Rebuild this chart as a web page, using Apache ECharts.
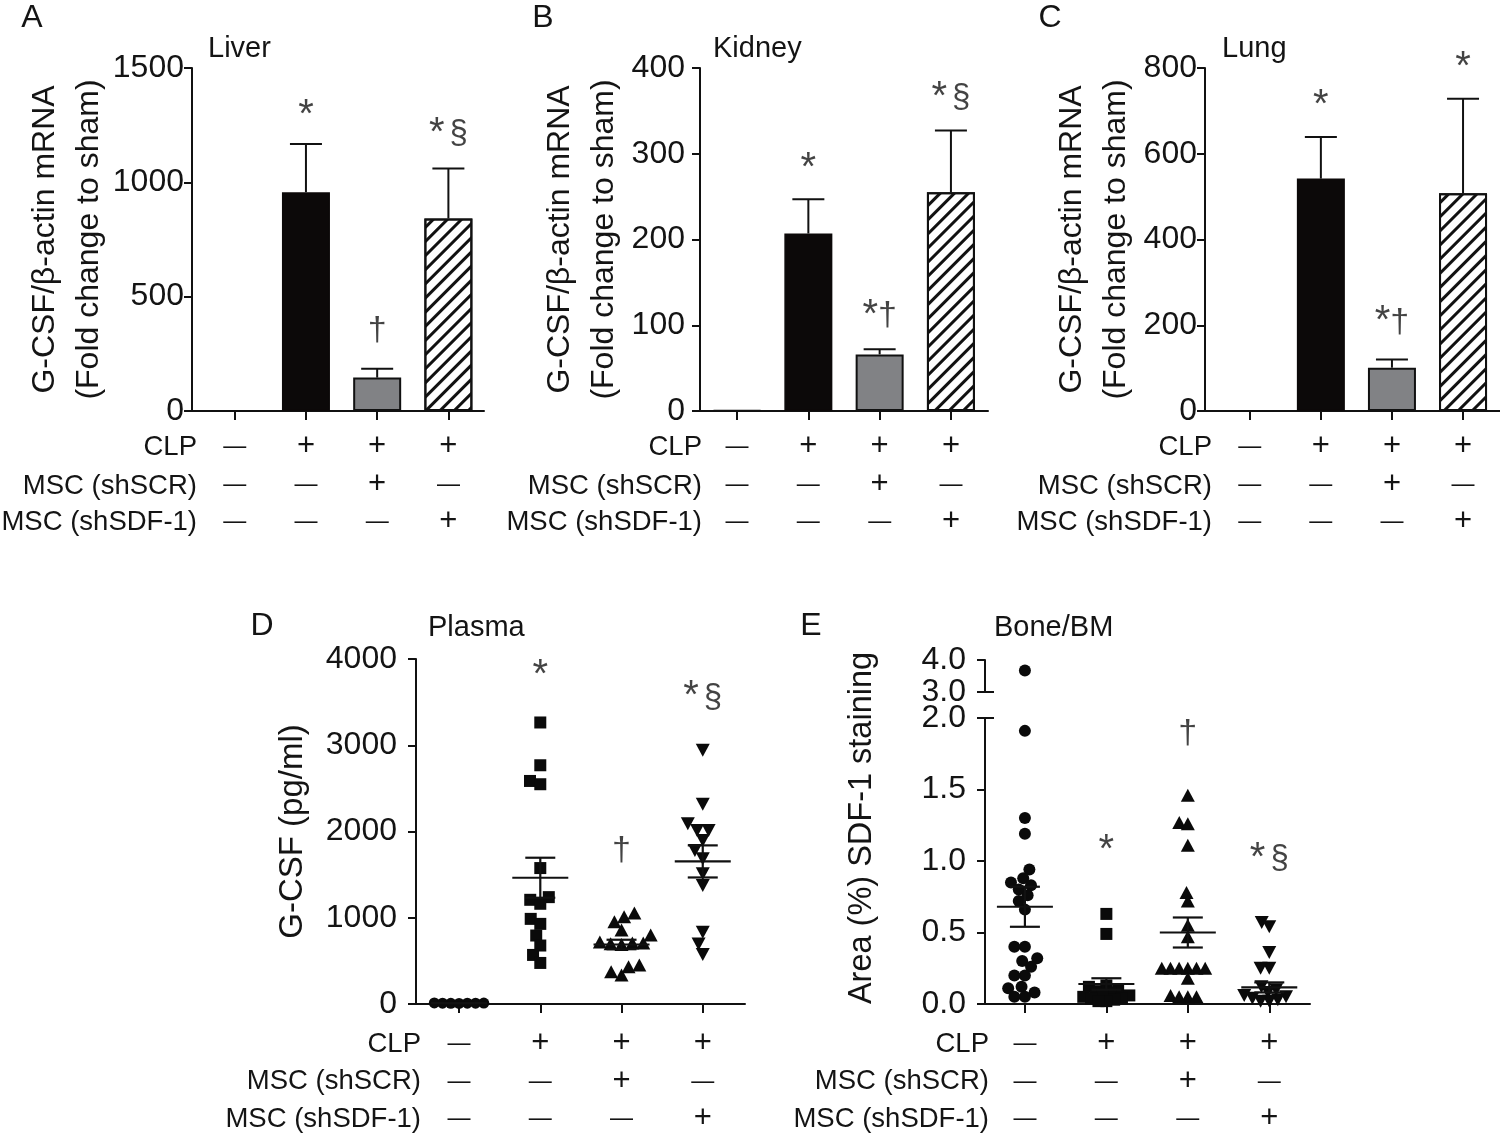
<!DOCTYPE html>
<html><head><meta charset="utf-8">
<script src="https://cdn.jsdelivr.net/npm/echarts@6/dist/echarts.min.js"></script>
<style>html,body{margin:0;padding:0;background:#fff}#c{width:1500px;height:1135px}</style>
</head><body><div id="c"></div>
<script>
// ---------------- data ----------------
const groupIndex = [0, 1, 2, 3];
const rowNames = ['CLP', 'MSC (shSCR)', 'MSC (shSDF-1)'];
const clpSigns = ['—', '+', '+', '+'];
const shSCRSigns = ['—', '—', '+', '—'];
const shSDFSigns = ['—', '—', '—', '+'];

const panelLetters = ['A', 'B', 'C', 'D', 'E'];
const panelTitles = ['Liver', 'Kidney', 'Lung', 'Plasma', 'Bone/BM'];

// A-C: G-CSF / beta-actin mRNA (fold change to sham), mean and SEM
const liverMean = [1, 957, 146, 842];
const liverSEM = [0, 211, 39, 218];
const kidneyMean = [1, 207, 66, 255];
const kidneySEM = [0, 40, 6, 72];
const lungMean = [1, 542, 101, 508];
const lungSEM = [0, 97, 19, 220];

const liverMarks = ['', '*', '†', '* §'];
const liverMarkY = [null, 1289, 353, 1210];
const kidneyMarks = ['', '*', '*†', '* §'];
const kidneyMarkY = [null, 282, 111, 365];
const lungMarks = ['', '*', '*†', '*'];
const lungMarkY = [null, 711, 207, 800];

// D: plasma G-CSF (pg/ml), individual animals
const plasmaSham = [10, 8, 12, 9, 11, 7, 10];
const plasmaCLP = [3264, 2768, 2586, 2548, 1576, 1239, 1208, 1162, 987, 929, 794, 678, 569, 476];
const plasmaSCR = [1055, 1012, 954, 858, 800, 720, 707, 700, 690, 707, 452, 433, 375, 336];
const plasmaSDF = [2943, 2315, 2091, 2013, 2013, 1897, 1781, 1684, 1510, 1375, 832, 697, 573];
const plasmaMean = [10, 1464, 690, 1653];
const plasmaSEM = [1, 232, 55, 186];
const plasmaMarks = ['', '*', '†', '* §'];
const plasmaMarkY = [null, 3800, 1777, 3554];

// E: bone/BM area (%) SDF-1 staining, individual animals
const boneSham = [3.67, 1.91, 1.30, 1.19, 0.94, 0.88, 0.85, 0.83, 0.80, 0.76, 0.72, 0.66, 0.40, 0.40, 0.32, 0.30, 0.26, 0.20, 0.20, 0.12, 0.11, 0.08, 0.05, 0.05];
const boneCLP = [0.63, 0.49, 0.13, 0.12, 0.10, 0.09, 0.08, 0.07, 0.06, 0.05, 0.04, 0.04, 0.03, 0.02, 0.02];
const boneSCR = [1.46, 1.27, 1.26, 1.11, 0.78, 0.72, 0.55, 0.47, 0.25, 0.25, 0.25, 0.25, 0.25, 0.25, 0.18, 0.06, 0.05, 0.05, 0.05];
const boneSDF = [0.57, 0.54, 0.36, 0.25, 0.25, 0.12, 0.10, 0.08, 0.06, 0.05, 0.04, 0.03, 0.02, 0.02];
const boneMean = [0.68, 0.14, 0.50, 0.116];
const boneSEM = [0.14, 0.04, 0.105, 0.035];
const boneMarks = ['', '*', '†', '* §'];
const boneMarkY = [null, 1.07, 1.888, 1.012];

const yTicksA = [0, 1500, 500];
const yTicksB = [0, 400, 100];
const yTicksC = [0, 800, 200];
const yTicksD = [0, 4000, 1000];
const yTicksELow = [0, 2, 0.5];
const yTicksEHigh = [3, 4, 1];

// ---------------- styling ----------------
const FONT = '"Liberation Sans", Arial, Helvetica, sans-serif';
const INK = '#111';
const TXT = '#141414';

const signRich = {
  p: { fontSize: 31, lineHeight: 37.5, fontFamily: FONT, color: TXT },
  m: { fontSize: 23, lineHeight: 37.5, fontFamily: FONT, color: TXT }
};
function signToken(s) { return s === '+' ? '{p|+}' : '{m|—}'; }
function signFormatter(v) {
  const i = Math.round(v);
  return [clpSigns[i], shSCRSigns[i], shSDFSigns[i]].map(signToken).join('\n');
}
const markRich = {
  a: { fontSize: 40, fontFamily: FONT, color: TXT },
  d: { fontSize: 34, fontFamily: FONT, color: TXT },
  s: { fontSize: 33, fontFamily: FONT, color: TXT },
  sp: { fontSize: 18, fontFamily: FONT }
};
function richify(str) {
  return str.split('').map(ch => ch === '*' ? '{a|*}' : ch === '†' ? '{d|†}' : ch === '§' ? '{s|§}' : '{sp| }').join('');
}

const grids = [
  { left: 192, top: 68, width: 292, height: 343 },
  { left: 700, top: 68, width: 288, height: 343 },
  { left: 1205, top: 68, width: 295, height: 343 },
  { left: 416, top: 659, width: 329, height: 345 },
  { left: 985, top: 718, width: 325, height: 286 },
  { left: 985, top: 660, width: 325, height: 32 }
].map(g => Object.assign({ containLabel: false, outerBoundsMode: 'none' }, g));

const xRanges = [[-0.6, 3.5], [-0.52, 3.52], [-0.63, 3.52], [-0.53, 3.52], [-0.49, 3.5], [-0.49, 3.5]];
const xMargins = [17, 17, 17, 21, 21, 21];

const xAxes = xRanges.map((r, gi) => ({
  type: 'value', gridIndex: gi, min: r[0], max: r[1], show: gi !== 5,
  axisLine: { show: true, onZero: false, lineStyle: { color: INK, width: 2 } },
  axisTick: { show: true, customValues: groupIndex, length: 9, lineStyle: { color: INK, width: 2 } },
  splitLine: { show: false },
  axisLabel: { show: true, customValues: groupIndex, formatter: signFormatter, rich: signRich, margin: xMargins[gi], hideOverlap: false }
}));

const yDefs = [
  { t: yTicksA, margin: 8, name: 'G-CSF/β-actin mRNA\n(Fold change to sham)', gap: 81, fs: 32, lh: 44 },
  { t: yTicksB, margin: 15, name: 'G-CSF/β-actin mRNA\n(Fold change to sham)', gap: 74, fs: 32, lh: 44 },
  { t: yTicksC, margin: 8, name: 'G-CSF/β-actin mRNA\n(Fold change to sham)', gap: 67, fs: 32, lh: 44 },
  { t: yTicksD, margin: 19, name: 'G-CSF (pg/ml)', gap: 105, fs: 33, lh: 36 },
  { t: yTicksELow, margin: 19, name: '', gap: 0, fixed: 1 },
  { t: yTicksEHigh, margin: 19, name: '', gap: 0, fixed: 1 }
];
const yAxes = yDefs.map((d, gi) => ({
  type: 'value', gridIndex: gi, min: d.t[0], max: d.t[1], interval: d.t[2],
  name: d.name, nameLocation: 'middle', nameRotate: 90, nameGap: d.gap, nameMoveOverlap: false,
  nameTextStyle: { fontSize: d.fs || 32, lineHeight: d.lh || 40, fontFamily: FONT, color: TXT },
  axisLine: { show: true, onZero: false, lineStyle: { color: INK, width: 2 } },
  axisTick: { show: true, length: 8, lineStyle: { color: INK, width: 2 } },
  splitLine: { show: false },
  axisLabel: {
    show: true, margin: d.margin, fontSize: 32, fontFamily: FONT, color: TXT, hideOverlap: false,
    formatter: d.fixed ? (v => v.toFixed(1)) : (v => String(v))
  }
}));

const barItemStyles = [
  { color: '#ffffff', borderColor: INK, borderWidth: 1.5 },
  { color: '#0c0909', borderColor: '#0c0909', borderWidth: 1.5 },
  { color: '#818285', borderColor: INK, borderWidth: 2 },
  { color: '#ffffff', borderColor: INK, borderWidth: 2,
    decal: { symbol: 'rect', symbolSize: 1, color: '#111', dashArrayX: [1, 0], dashArrayY: [3, 7], rotation: -Math.PI / 4 } }
];

function barSeries(gi, means) {
  return {
    type: 'bar', xAxisIndex: gi, yAxisIndex: gi, barWidth: 48, z: 3, silent: true,
    data: groupIndex.map(i => ({ value: [i, means[i]], itemStyle: barItemStyles[i] }))
  };
}
function barErrSeries(gi, means, sems) {
  return {
    type: 'custom', xAxisIndex: gi, yAxisIndex: gi, z: 4, silent: true,
    encode: { x: 0, y: 1 },
    data: groupIndex.map(i => [i, means[i], sems[i]]),
    renderItem: (params, api) => {
      const x = api.value(0), m = api.value(1), s = api.value(2);
      if (!s) return { type: 'group', children: [] };
      const p0 = api.coord([x, m]), p1 = api.coord([x, m + s]);
      const h = 16;
      return { type: 'group', children: [
        { type: 'line', shape: { x1: p0[0], y1: p0[1], x2: p1[0], y2: p1[1] }, style: { stroke: INK, lineWidth: 2 } },
        { type: 'line', shape: { x1: p1[0] - h, y1: p1[1], x2: p1[0] + h, y2: p1[1] }, style: { stroke: INK, lineWidth: 2 } }
      ] };
    }
  };
}
function meanSemSeries(gi, means, sems) {
  return {
    type: 'custom', xAxisIndex: gi, yAxisIndex: gi, z: 6, silent: true,
    encode: { x: 0, y: 1 },
    data: groupIndex.map(i => [i, means[i], sems[i]]),
    renderItem: (params, api) => {
      const x = api.value(0), m = api.value(1), s = api.value(2);
      const pm = api.coord([x, m]), pt = api.coord([x, m + s]), pb = api.coord([x, Math.max(0, m - s)]);
      const hm = 28, hc = 15, st = { stroke: INK, lineWidth: 2.2 };
      return { type: 'group', children: [
        { type: 'line', shape: { x1: pm[0] - hm, y1: pm[1], x2: pm[0] + hm, y2: pm[1] }, style: st },
        { type: 'line', shape: { x1: pt[0], y1: pt[1], x2: pb[0], y2: pb[1] }, style: st },
        { type: 'line', shape: { x1: pt[0] - hc, y1: pt[1], x2: pt[0] + hc, y2: pt[1] }, style: st },
        { type: 'line', shape: { x1: pb[0] - hc, y1: pb[1], x2: pb[0] + hc, y2: pb[1] }, style: st }
      ] };
    }
  };
}
function markSeries(gi, texts, ys) {
  return {
    type: 'scatter', xAxisIndex: gi, yAxisIndex: gi, symbolSize: 1, z: 7, silent: true, clip: false,
    itemStyle: { color: 'rgba(0,0,0,0)' },
    label: { show: true, position: 'inside', rich: markRich, color: TXT },
    data: groupIndex.filter(i => texts[i]).map(i => ({ value: [i, ys[i]], label: { formatter: richify(texts[i]) } }))
  };
}

// scatter groups (jitter computed later with a beeswarm layout)
const scatterGroups = [
  { id: 'dSham', gi: 3, cat: 0, vals: plasmaSham, symbol: 'circle', size: 11, k: 0.75 },
  { id: 'dCLP', gi: 3, cat: 1, vals: plasmaCLP, symbol: 'rect', size: 12, k: 0.9 },
  { id: 'dSCR', gi: 3, cat: 2, vals: plasmaSCR, symbol: 'triangle', size: 14, k: 0.78 },
  { id: 'dSDF', gi: 3, cat: 3, vals: plasmaSDF, symbol: 'triangle', size: 14, rot: 180, k: 0.82 },
  { id: 'eShamLow', gi: 4, cat: 0, vals: boneSham.filter(v => v <= 2.5), symbol: 'circle', size: 12, k: 0.88 },
  { id: 'eShamHigh', gi: 5, cat: 0, vals: boneSham.filter(v => v > 2.5), symbol: 'circle', size: 12, k: 0.88 },
  { id: 'eCLP', gi: 4, cat: 1, vals: boneCLP, symbol: 'rect', size: 12, k: 0.66 },
  { id: 'eSCR', gi: 4, cat: 2, vals: boneSCR, symbol: 'triangle', size: 14, k: 0.62 },
  { id: 'eSDF', gi: 4, cat: 3, vals: boneSDF, symbol: 'triangle', size: 14, rot: 180, k: 0.62 }
];
function scatterSeries(g) {
  return {
    id: g.id, type: 'scatter', xAxisIndex: g.gi, yAxisIndex: g.gi, z: 5, silent: true, clip: false,
    symbol: g.symbol, symbolSize: g.symbol === 'triangle' ? [g.size, g.size - 1] : g.size,
    symbolRotate: g.rot || 0,
    itemStyle: { color: '#0a0a0a', opacity: 1 },
    data: g.vals.map(v => [g.cat, v])
  };
}

// text elements
function txt(text, x, y, size, align, extra) {
  return Object.assign({ type: 'text', x, y, silent: true,
    style: { text, font: size + 'px ' + FONT, fill: TXT, textAlign: align || 'left', textVerticalAlign: 'middle' } }, extra || {});
}
const rowHeaderPos = [
  { right: 197, ys: [447, 486, 522] },
  { right: 702, ys: [447, 486, 522] },
  { right: 1212, ys: [447, 486, 522] },
  { right: 421, ys: [1044, 1081, 1119] },
  { right: 989, ys: [1044, 1081, 1119] }
];
const letterPos = [[32, 18], [543, 18], [1050, 18], [262, 626], [811, 626]];
const titlePos = [[208, 49], [713, 49], [1222, 49], [428, 628], [994, 628]];

const graphics = [];
rowHeaderPos.forEach(p => rowNames.forEach((n, k) => graphics.push(txt(n, p.right, p.ys[k], 27.5, 'right'))));
panelLetters.forEach((l, k) => graphics.push(txt(l, letterPos[k][0], letterPos[k][1], 32, 'center')));
panelTitles.forEach((t, k) => graphics.push(txt(t, titlePos[k][0], titlePos[k][1], 29, 'left')));
graphics.push(txt('Area (%) SDF-1 staining', 862, 828, 32.5, 'center', { rotation: Math.PI / 2 }));

const option = {
  animation: false,
  backgroundColor: '#ffffff',
  textStyle: { fontFamily: FONT },
  grid: grids,
  xAxis: xAxes,
  yAxis: yAxes,
  graphic: { elements: graphics },
  series: [
    barSeries(0, liverMean), barErrSeries(0, liverMean, liverSEM), markSeries(0, liverMarks, liverMarkY),
    barSeries(1, kidneyMean), barErrSeries(1, kidneyMean, kidneySEM), markSeries(1, kidneyMarks, kidneyMarkY),
    barSeries(2, lungMean), barErrSeries(2, lungMean, lungSEM), markSeries(2, lungMarks, lungMarkY),
    ...scatterGroups.map(scatterSeries),
    meanSemSeries(3, plasmaMean, plasmaSEM), markSeries(3, plasmaMarks, plasmaMarkY),
    meanSemSeries(4, boneMean, boneSEM), markSeries(4, boneMarks, boneMarkY)
  ]
};

const chart = echarts.init(document.getElementById('c'), null, { renderer: 'canvas' });
chart.setOption(option);

// beeswarm layout: spread overlapping points horizontally
function swarmOffsets(pys, d) {
  const n = pys.length;
  const order = [...Array(n).keys()].sort((a, b) => pys[b] - pys[a]);
  const placed = [], off = new Array(n).fill(0);
  for (const i of order) {
    const y = pys[i];
    const cands = [0];
    for (const p of placed) {
      const dy = y - p.y;
      if (Math.abs(dy) < d) { const w = Math.sqrt(d * d - dy * dy); cands.push(p.x - w, p.x + w); }
    }
    cands.sort((a, b) => Math.abs(a) - Math.abs(b) || a - b);
    let chosen = 0;
    for (const c of cands) {
      if (placed.every(p => (c - p.x) ** 2 + (y - p.y) ** 2 >= d * d - 0.01)) { chosen = c; break; }
    }
    off[i] = chosen; placed.push({ x: chosen, y });
  }
  return off;
}
const updates = scatterGroups.map(g => {
  const px0 = chart.convertToPixel({ gridIndex: g.gi }, [0, 0])[0];
  const px1 = chart.convertToPixel({ gridIndex: g.gi }, [1, 0])[0];
  const perUnit = px1 - px0;
  const pys = g.vals.map(v => chart.convertToPixel({ gridIndex: g.gi }, [g.cat, v])[1]);
  const offs = swarmOffsets(pys, g.size * g.k);
  return { id: g.id, data: g.vals.map((v, i) => [g.cat + offs[i] / perUnit, v]) };
});

// axis break marks on panel E
const b3 = chart.convertToPixel({ gridIndex: 5 }, [xRanges[5][0], yTicksEHigh[0]]);
const b2 = chart.convertToPixel({ gridIndex: 4 }, [xRanges[4][0], yTicksELow[1]]);
const breakMarks = [b3, b2].map(p => ({ type: 'line', silent: true,
  shape: { x1: p[0] - 8, y1: p[1], x2: p[0] + 9, y2: p[1] }, style: { stroke: INK, lineWidth: 2 } }));

chart.setOption({ series: updates, graphic: { elements: graphics.concat(breakMarks) } });
</script>
</body></html>
